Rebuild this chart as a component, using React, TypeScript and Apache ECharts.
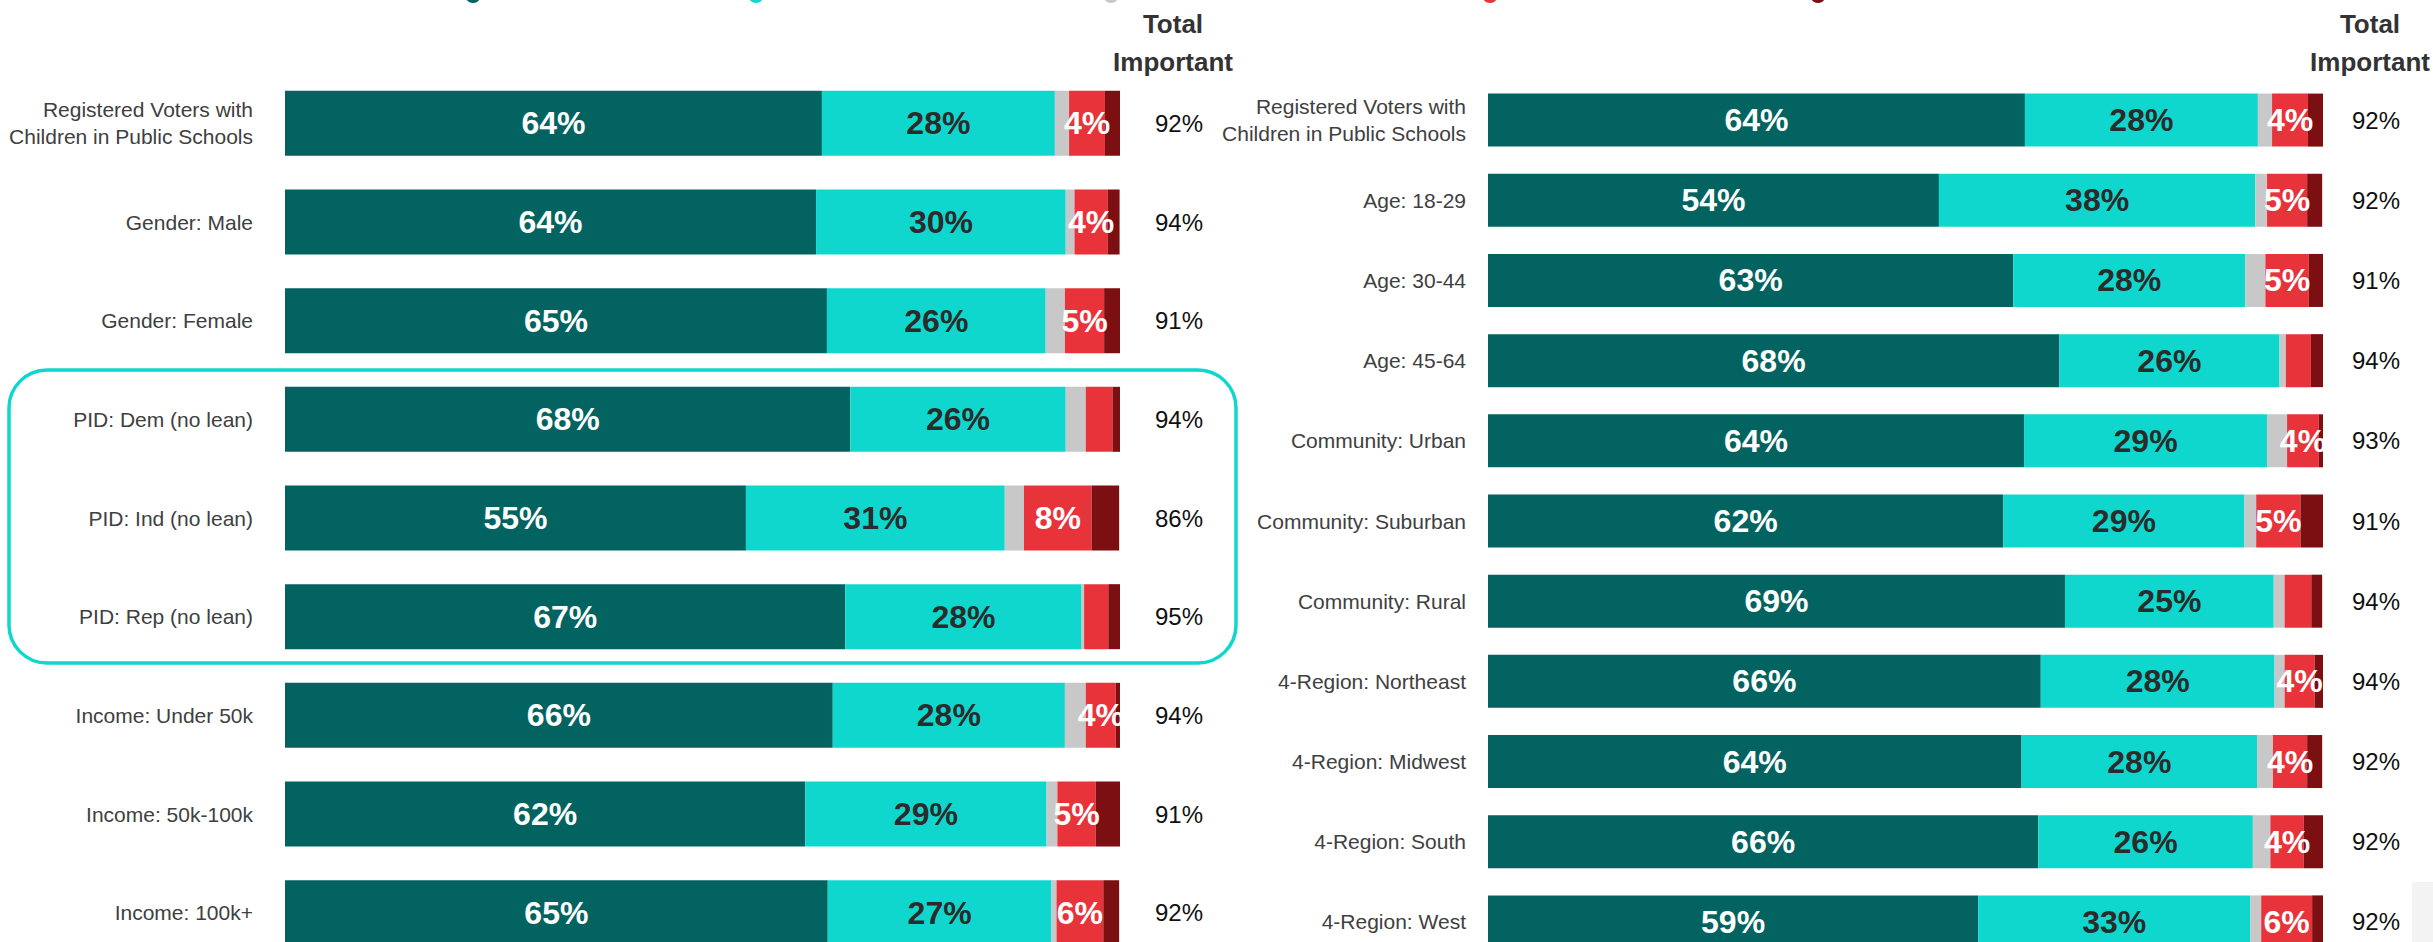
import React, { useEffect, useRef } from "react";
import * as echarts from "echarts";

const seriesNames = ["Very important", "Somewhat important", "Don't know", "Not very important", "Not at all important"];
const seriesColors = ["#036361", "#10d7cd", "#c8c8c8", "#e8333a", "#7b0f12"];

const leftCategories = [
  "Registered Voters with\nChildren in Public Schools",
  "Gender: Male",
  "Gender: Female",
  "PID: Dem (no lean)",
  "PID: Ind (no lean)",
  "PID: Rep (no lean)",
  "Income: Under 50k",
  "Income: 50k-100k",
  "Income: 100k+",
];
const leftVery = [64.3, 63.6, 64.9, 67.7, 55.2, 67.1, 65.6, 62.3, 65.0];
const leftSomewhat = [27.9, 29.9, 26.2, 25.8, 31.0, 28.3, 27.8, 28.9, 26.8];
const leftDontKnow = [1.7, 1.05, 2.3, 2.4, 2.3, 0.3, 2.5, 1.3, 0.6];
const leftNotVery = [4.3, 4.0, 4.7, 3.2, 8.1, 2.9, 3.6, 4.6, 5.6];
const leftNotAtAll = [1.8, 1.4, 2.0, 1.0, 3.3, 1.4, 0.5, 2.9, 1.9];
const leftTotal = [92, 94, 91, 94, 86, 95, 94, 91, 92];

const rightCategories = [
  "Registered Voters with\nChildren in Public Schools",
  "Age: 18-29",
  "Age: 30-44",
  "Age: 45-64",
  "Community: Urban",
  "Community: Suburban",
  "Community: Rural",
  "4-Region: Northeast",
  "4-Region: Midwest",
  "4-Region: South",
  "4-Region: West",
];
const rightVery = [64.3, 54.0, 62.9, 68.4, 64.2, 61.7, 69.1, 66.2, 63.9, 65.9, 58.7];
const rightSomewhat = [27.9, 37.9, 27.8, 26.4, 29.1, 28.9, 25.0, 28.0, 28.2, 25.7, 32.6];
const rightDontKnow = [1.7, 1.4, 2.4, 0.75, 2.4, 1.4, 1.3, 1.2, 1.9, 2.1, 1.3];
const rightNotVery = [4.3, 4.8, 5.2, 3.0, 3.8, 5.3, 3.2, 3.6, 4.1, 4.0, 6.1];
const rightNotAtAll = [1.8, 1.8, 1.8, 1.5, 0.6, 2.7, 1.3, 1.0, 1.8, 2.3, 1.3];
const rightTotal = [92, 92, 91, 94, 93, 91, 94, 94, 92, 92, 92];

const totalHeader = "Total\nImportant";

const FONT = '"Liberation Sans", Arial, Helvetica, sans-serif';

function makeSeries(
  side: string,
  idx: number,
  data: number[][],
  barWidth: number
) {
  const labelColors = ["#ffffff", "#2b2b2b", "#ffffff", "#ffffff", "#ffffff"];
  const showLabel = [true, true, false, true, false];
  return data.map((values, i) => ({
    name: seriesNames[i],
    type: "bar",
    stack: side,
    xAxisIndex: idx,
    yAxisIndex: idx * 2,
    barWidth,
    data: values,
    itemStyle: { color: seriesColors[i] },
    label: {
      show: showLabel[i],
      position: "inside",
      color: labelColors[i],
      fontSize: 32,
      fontWeight: "bold",
      fontFamily: FONT,
      formatter: (p: any) => {
        if (i === 3 && p.value < 3.5) return "";
        return Math.round(p.value) + "%";
      },
    },
    emphasis: { disabled: true },
  }));
}

export default function App() {
  const ref = useRef<HTMLDivElement>(null);

  useEffect(() => {
    document.body.style.margin = "0";
    document.body.style.overflow = "hidden";
    if (!ref.current) return;
    const chart = echarts.init(ref.current, null, { renderer: "svg" });

    const catAxisLabel = {
      fontSize: 21,
      color: "#404040",
      fontFamily: FONT,
      lineHeight: 27,
    };
    const totalAxisLabel = {
      fontSize: 24,
      color: "#111111",
      fontFamily: FONT,
    };
    const hiddenAxis = {
      axisLine: { show: false },
      axisTick: { show: false },
      splitLine: { show: false },
    };

    const option: any = {
      animation: false,
      backgroundColor: "#ffffff",
      grid: [
        { left: 285, top: 74, width: 835, height: 888 },
        { left: 1488, top: 80, width: 835, height: 882 },
      ],
      xAxis: [
        { type: "value", gridIndex: 0, min: 0, max: 100, show: false },
        { type: "value", gridIndex: 1, min: 0, max: 100, show: false },
      ],
      yAxis: [
        {
          type: "category",
          gridIndex: 0,
          inverse: true,
          data: leftCategories,
          axisLabel: { ...catAxisLabel, margin: 32 },
          ...hiddenAxis,
        },
        {
          type: "category",
          gridIndex: 0,
          inverse: true,
          position: "right",
          data: leftTotal.map((v) => v + "%"),
          axisLabel: { ...totalAxisLabel, margin: 35 },
          ...hiddenAxis,
        },
        {
          type: "category",
          gridIndex: 1,
          inverse: true,
          data: rightCategories,
          axisLabel: { ...catAxisLabel, margin: 22 },
          ...hiddenAxis,
        },
        {
          type: "category",
          gridIndex: 1,
          inverse: true,
          position: "right",
          data: rightTotal.map((v) => v + "%"),
          axisLabel: { ...totalAxisLabel, margin: 29 },
          ...hiddenAxis,
        },
      ],
      series: [
        ...makeSeries("L", 0, [leftVery, leftSomewhat, leftDontKnow, leftNotVery, leftNotAtAll], 65),
        ...makeSeries("R", 1, [rightVery, rightSomewhat, rightDontKnow, rightNotVery, rightNotAtAll], 53),
      ],
      graphic: [
        {
          type: "rect",
          shape: { x: 9, y: 370, width: 1227, height: 293, r: 38 },
          style: { fill: "none", stroke: "#10d7cd", lineWidth: 3.5 },
          silent: true,
          z: 0,
        },
        {
          type: "text",
          x: 1173,
          y: 43,
          style: {
            text: totalHeader,
            align: "center",
            verticalAlign: "middle",
            fontSize: 26,
            fontWeight: "bold",
            fontFamily: FONT,
            lineHeight: 38,
            fill: "#333333",
          },
        },
        {
          type: "text",
          x: 2370,
          y: 43,
          style: {
            text: totalHeader,
            align: "center",
            verticalAlign: "middle",
            fontSize: 26,
            fontWeight: "bold",
            fontFamily: FONT,
            lineHeight: 38,
            fill: "#333333",
          },
        },
        ...[473, 756, 1111, 1490, 1818].map((cx, i) => ({
          type: "circle",
          shape: { cx, cy: -5, r: 8 },
          style: { fill: seriesColors[i] },
          silent: true,
        })),
        {
          type: "rect",
          shape: { x: 2412, y: 882, width: 21, height: 60 },
          style: { fill: "#f3f3f3" },
          silent: true,
        },
      ],
    };

    chart.setOption(option);
    return () => chart.dispose();
  }, []);

  return (
    <div style={{ width: 2433, height: 942, overflow: "hidden", position: "relative" }}>
      <div ref={ref} style={{ width: 2433, height: 1000 }} />
    </div>
  );
}
